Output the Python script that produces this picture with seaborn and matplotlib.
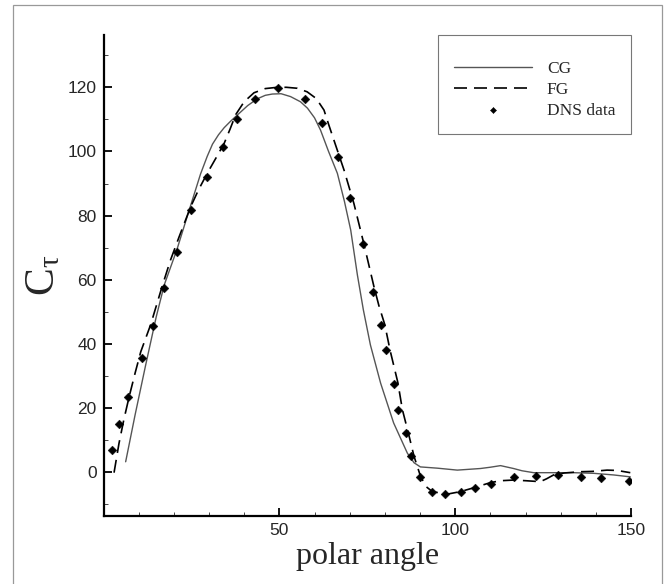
import numpy as np
import pandas as pd
import matplotlib
matplotlib.use("Agg")
import matplotlib.pyplot as plt
from matplotlib.patches import Rectangle
from matplotlib.ticker import MultipleLocator
import seaborn as sns

# ---- data ----
cg_x = [6.3, 9.0, 12.0, 15.0, 17.3, 20.9, 24.3, 27.6, 29.5, 31.0, 32.7, 34.3, 36.2, 38.1,
        41.0, 43.7, 46.0, 48.0, 50.5, 53.2, 56.0, 58.0, 60.0, 61.7, 64.0, 66.5, 68.5,
        70.3, 72.2, 73.9, 75.9, 78.8, 82.5, 86.4, 88.3, 90.1, 95.0, 100.6, 107.2, 110.0,
        112.9, 116.6, 119.0, 122.3, 128.0, 133.7, 139.4, 145.0, 149.8]
cg_y = [3.3, 18.0, 33.5, 48.5, 58.5, 69.5, 81.5, 93.0, 98.5, 102.3, 105.2, 107.4, 109.5, 111.4,
        114.3, 116.4, 117.5, 117.9, 118.0, 117.1, 115.5, 113.5, 110.5, 106.7, 100.0, 93.2, 84.5,
        75.5, 61.5, 50.6, 39.7, 27.8, 15.4, 6.0, 3.0, 1.7, 1.3, 0.7, 1.2, 1.6,
        2.1, 1.2, 0.5, -0.1, -0.1, -0.1, -0.3, -0.8, -1.4]

fg_x = [3.0, 4.4, 5.8, 7.3, 9.0, 10.6, 13.4, 16.8, 19.0, 21.5, 24.8, 27.0, 29.5, 32.0,
        34.3, 36.0, 37.6, 40.0, 42.8, 46.0, 49.4, 52.0, 55.1, 57.9, 60.5, 62.7, 64.0,
        65.5, 68.4, 71.2, 74.0, 76.9, 78.3, 80.0, 81.5, 83.7, 85.0, 86.7, 88.3, 90.2,
        91.8, 93.5, 97.7, 101.5, 105.3, 110.0, 113.0, 116.6, 120.0, 124.2, 126.0, 128.0,
        131.0, 135.6, 139.0, 143.2, 146.0, 149.8]
fg_y = [-0.1, 9.0, 16.5, 23.6, 31.0, 37.6, 46.0, 58.4, 66.0, 73.4, 82.8, 88.0, 93.2, 98.0,
        102.5, 107.0, 111.5, 115.5, 118.3, 119.6, 120.0, 120.0, 119.7, 118.6, 116.5, 112.9, 108.5,
        103.6, 94.2, 83.8, 71.4, 57.9, 52.0, 46.0, 38.0, 28.0, 19.5, 12.2, 5.0, -1.4,
        -4.5, -6.0, -6.8, -6.0, -4.8, -3.2, -2.6, -2.4, -2.6, -2.9, -2.0, -0.8,
        -0.2, 0.2, 0.3, 0.7, 0.6, -0.1]

dns_x = [2.5, 4.5, 7.1, 11.0, 14.0, 17.3, 20.9, 24.8, 29.5, 34.0, 38.1, 43.1, 49.6,
         57.3, 62.1, 66.7, 70.0, 73.8, 76.5, 78.9, 80.3, 82.5, 83.7, 85.9, 87.5, 89.9,
         93.3, 97.1, 101.7, 105.5, 110.3, 116.6, 123.1, 129.1, 135.8, 141.6, 149.5]
dns_y = [7.0, 15.0, 23.5, 35.5, 45.5, 57.6, 68.7, 81.7, 92.0, 101.5, 110.0, 116.2, 119.9,
         116.2, 108.9, 98.4, 85.6, 71.2, 56.3, 46.0, 38.0, 27.6, 19.5, 12.2, 5.1, -1.4,
         -6.0, -6.7, -6.0, -4.9, -3.5, -1.6, -1.2, -0.9, -1.4, -1.7, -2.6]

x_major = [50, 100, 150]
y_major = [0, 20, 40, 60, 80, 100, 120]

cg = pd.DataFrame({"angle": cg_x, "C": cg_y})
fg = pd.DataFrame({"angle": fg_x, "C": fg_y})
dns = pd.DataFrame({"angle": dns_x, "C": dns_y})

# ---- style ----
sns.set_style("ticks")
plt.rcParams["font.family"] = ["Liberation Serif", "DejaVu Serif"]
plt.rcParams["mathtext.fontset"] = "custom"
plt.rcParams["mathtext.rm"] = "Liberation Serif"
plt.rcParams["mathtext.it"] = "Liberation Serif"

fig = plt.figure(figsize=(6.65, 5.84), dpi=100)
ax = fig.add_axes([103.5 / 665, 1 - 516 / 584, (631 - 103.5) / 665, (516 - 35) / 584])

sns.lineplot(data=cg, x="angle", y="C", sort=False, estimator=None, ax=ax,
             color="#555555", linewidth=1.0, label="CG")
sns.lineplot(data=fg, x="angle", y="C", sort=False, estimator=None, ax=ax,
             color="black", linewidth=1.2, label="FG")
ax.lines[1].set_dashes((7.8, 4.2))
sns.scatterplot(data=dns, x="angle", y="C", ax=ax, marker="D", s=20,
                color="black", edgecolor="black", linewidth=0.3, label="DNS data",
                zorder=5)

ax.set_xlim(0, 150)
ax.set_ylim(-13.6, 136.3)
ax.set_xticks(x_major)
ax.set_yticks(y_major)
ax.xaxis.set_minor_locator(MultipleLocator(10))
ax.yaxis.set_minor_locator(MultipleLocator(10))
ax.tick_params(which="major", direction="in", length=6, width=1.3, color="black",
               labelsize=12.5, pad=5)
ax.tick_params(which="minor", direction="in", length=3, width=0.7, color="#444444")
for lab in ax.get_xticklabels() + ax.get_yticklabels():
    lab.set_fontfamily("Liberation Sans")

for s in ["top", "right"]:
    ax.spines[s].set_visible(False)
for s in ["left", "bottom"]:
    ax.spines[s].set_linewidth(1.6)
    ax.spines[s].set_color("black")

ax.set_xlabel("polar angle", fontsize=23, labelpad=3)
ax.set_ylabel(r"C$_{\mathrm{τ}}$", fontsize=30)
ax.yaxis.set_label_coords(-0.076, 0.5)

leg = ax.legend(loc="upper right", bbox_to_anchor=(1.0, 1.0), borderaxespad=0,
                fontsize=12.5, handlelength=4.5, handletextpad=0.85, labelspacing=0.28,
                borderpad=0.9, markerscale=0.7, fancybox=False, framealpha=1,
                edgecolor="#777777", title=" ", title_fontsize=4)
leg.get_frame().set_linewidth(0.8)
if len(leg.get_lines()) > 1:
    leg.get_lines()[1].set_dashes((7.8, 4.2))

fig.patches.append(Rectangle((12.5 / 665, -0.01), (662 - 12.5) / 665, 1.01 - 5 / 584,
                             transform=fig.transFigure, fill=False,
                             edgecolor="#999999", linewidth=0.9))

fig.savefig("out.png", dpi=100)
